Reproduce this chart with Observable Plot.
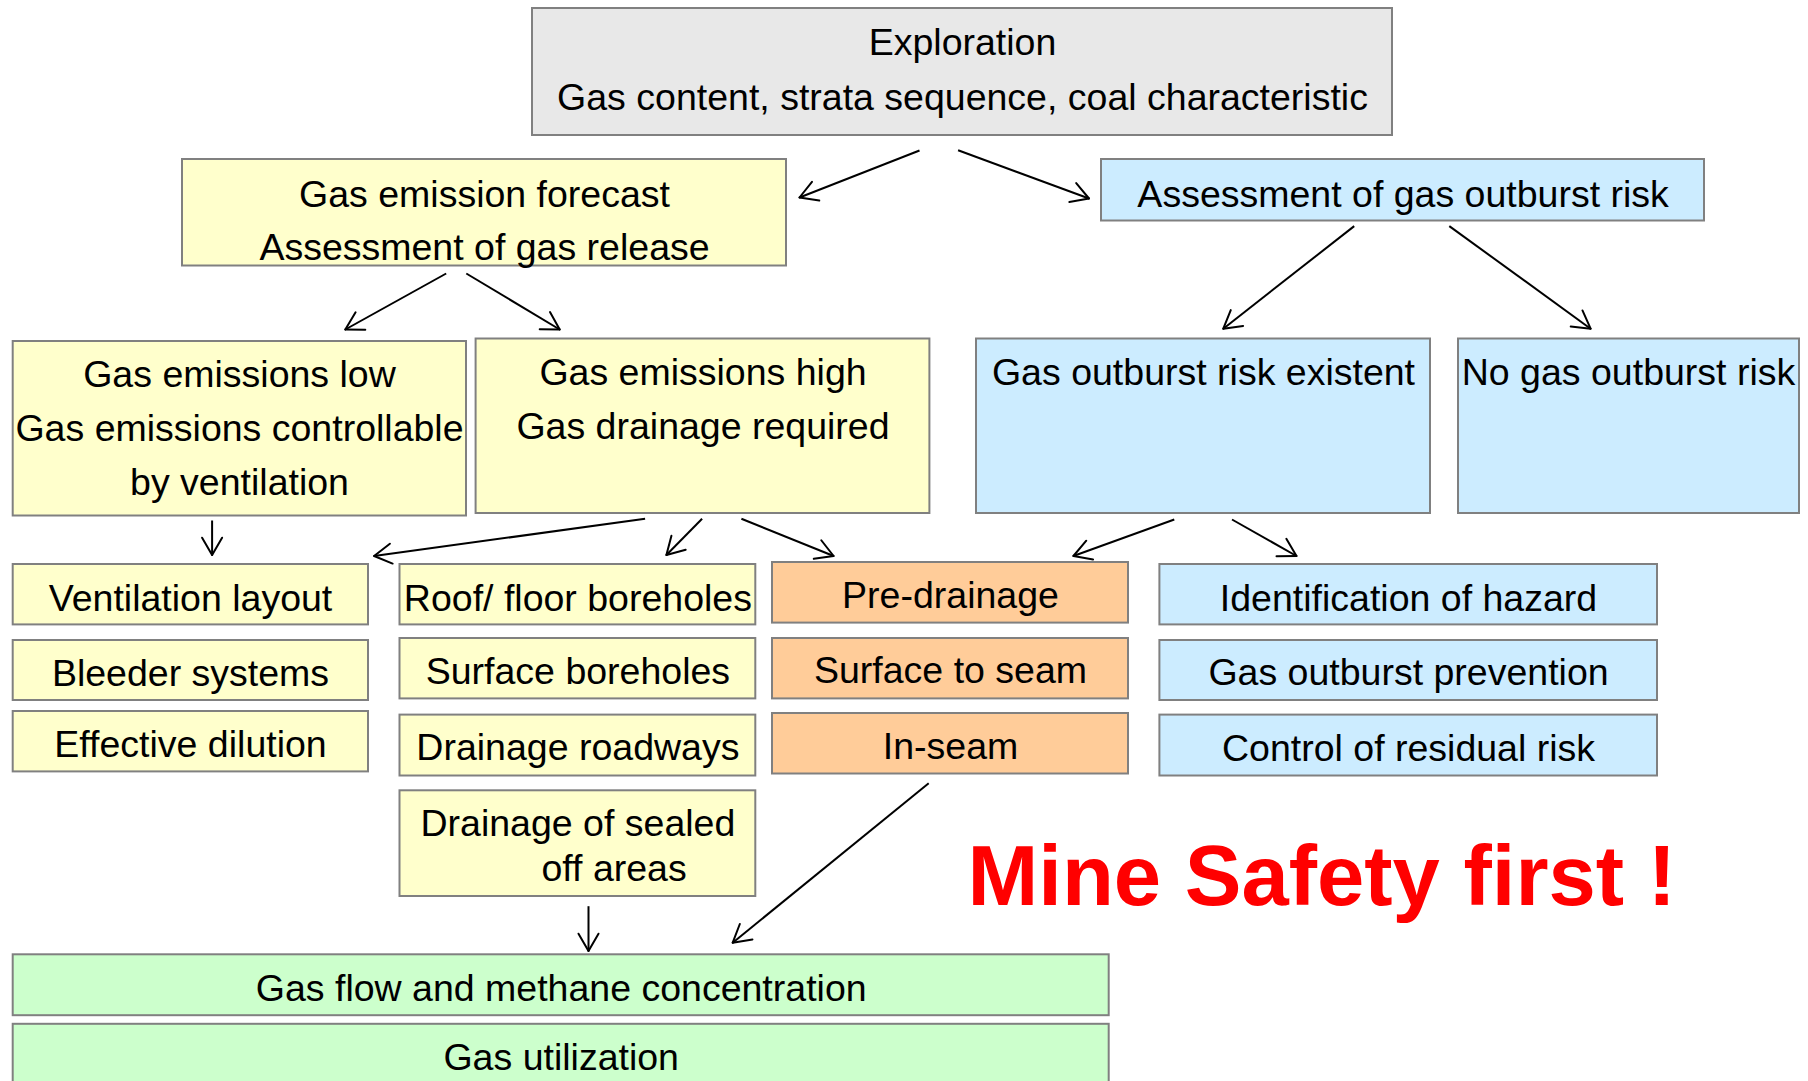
<!DOCTYPE html>
<html>
<head>
<meta charset="utf-8">
<script src="https://cdn.jsdelivr.net/npm/d3@7"></script>
<script src="https://cdn.jsdelivr.net/npm/@observablehq/plot@0.6"></script>
<style>
  html, body { margin: 0; padding: 0; background: #ffffff; overflow: hidden; }
  #chart svg { display: block; }
</style>
</head>
<body>
<div id="chart"></div>
<script>
// ---- Box categories and their fill colours ----
const kinds = ["exploration", "emission", "outburst", "drainage", "utilization"];
const kindColors = ["#E8E8E8", "#FFFFCC", "#CCECFF", "#FFCC99", "#CCFFCC"];

// ---- Flowchart boxes (layout in reference pixel units) ----
const boxes = [
  {id: "exploration",  kind: "exploration", x1: 532,   x2: 1392,   y1: 8,     y2: 135},
  {id: "forecast",     kind: "emission",    x1: 182,   x2: 786,    y1: 159,   y2: 265.5},
  {id: "assessOut",    kind: "outburst",    x1: 1101,  x2: 1704,   y1: 159,   y2: 220.5},
  {id: "low",          kind: "emission",    x1: 12.7,  x2: 466,    y1: 341,   y2: 515.5},
  {id: "high",         kind: "emission",    x1: 475.6, x2: 929.4,  y1: 338.5, y2: 513},
  {id: "existent",     kind: "outburst",    x1: 976,   x2: 1430,   y1: 338.5, y2: 513},
  {id: "noRisk",       kind: "outburst",    x1: 1458,  x2: 1799,   y1: 338.5, y2: 513},
  {id: "ventilation",  kind: "emission",    x1: 12.7,  x2: 368,    y1: 564,   y2: 624.4},
  {id: "bleeder",      kind: "emission",    x1: 12.7,  x2: 368,    y1: 640,   y2: 700},
  {id: "dilution",     kind: "emission",    x1: 12.7,  x2: 368,    y1: 711,   y2: 771.4},
  {id: "roof",         kind: "emission",    x1: 399.5, x2: 755.3,  y1: 564,   y2: 624.4},
  {id: "surfaceBH",    kind: "emission",    x1: 399.5, x2: 755.3,  y1: 638,   y2: 698.4},
  {id: "roadways",     kind: "emission",    x1: 399.5, x2: 755.3,  y1: 714.6, y2: 775.5},
  {id: "sealed",       kind: "emission",    x1: 399.5, x2: 755.3,  y1: 790.3, y2: 896},
  {id: "predrainage",  kind: "drainage",    x1: 772,   x2: 1128,   y1: 562,   y2: 622.6},
  {id: "surfaceSeam",  kind: "drainage",    x1: 772,   x2: 1128,   y1: 638,   y2: 698.4},
  {id: "inSeam",       kind: "drainage",    x1: 772,   x2: 1128,   y1: 713,   y2: 773.5},
  {id: "identify",     kind: "outburst",    x1: 1159.4, x2: 1657,  y1: 564,   y2: 624.4},
  {id: "prevention",   kind: "outburst",    x1: 1159.4, x2: 1657,  y1: 640,   y2: 700},
  {id: "residual",     kind: "outburst",    x1: 1159.4, x2: 1657,  y1: 714.6, y2: 775.5},
  {id: "gasFlow",      kind: "utilization", x1: 12.7,  x2: 1108.7, y1: 954.3, y2: 1015.2},
  {id: "utilization",  kind: "utilization", x1: 12.7,  x2: 1108.7, y1: 1023.8, y2: 1095}
];

// ---- Text lines (x = centre, y = baseline) ----
const labels = [
  {text: "Exploration", x: 962, y: 54.5},
  {text: "Gas content, strata sequence, coal characteristic", x: 962, y: 109.5},
  {text: "Gas emission forecast", x: 484, y: 206},
  {text: "Assessment of gas release", x: 484, y: 259},
  {text: "Assessment of gas outburst risk", x: 1402.6, y: 206},
  {text: "Gas emissions low", x: 239, y: 386.4},
  {text: "Gas emissions controllable", x: 239, y: 440},
  {text: "by ventilation", x: 239, y: 494},
  {text: "Gas emissions high", x: 702.5, y: 384},
  {text: "Gas drainage required", x: 702.5, y: 438},
  {text: "Gas outburst risk existent", x: 1203, y: 384},
  {text: "No gas outburst risk", x: 1628, y: 384},
  {text: "Ventilation layout", x: 190, y: 610},
  {text: "Bleeder systems", x: 190, y: 685.3},
  {text: "Effective dilution", x: 190, y: 756.3},
  {text: "Roof/ floor boreholes", x: 577.4, y: 610},
  {text: "Surface boreholes", x: 577.4, y: 683},
  {text: "Drainage roadways", x: 577.4, y: 759.4},
  {text: "Drainage of sealed", x: 577.4, y: 835.4},
  {text: "off areas", x: 613.6, y: 880.2},
  {text: "Pre-drainage", x: 950, y: 607.5},
  {text: "Surface to seam", x: 950, y: 682.5},
  {text: "In-seam", x: 950, y: 758.7},
  {text: "Identification of hazard", x: 1408, y: 610},
  {text: "Gas outburst prevention", x: 1408, y: 684.6},
  {text: "Control of residual risk", x: 1408, y: 760},
  {text: "Gas flow and methane concentration", x: 560.7, y: 1000.4},
  {text: "Gas utilization", x: 560.7, y: 1069.6}
];

// ---- Slogan ----
const slogan = [{text: "Mine Safety first !", x: 967, y: 904}];

// ---- Arrows (start -> tip) ----
const arrows = [
  {x1: 919,   y1: 150,   x2: 799,    y2: 197},
  {x1: 957.6, y1: 149.8, x2: 1088.5, y2: 198},
  {x1: 445.7, y1: 273,   x2: 344.8,  y2: 329},
  {x1: 465.8, y1: 273,   x2: 559.2,  y2: 329},
  {x1: 1353.7, y1: 225.6, x2: 1222.8, y2: 328.2},
  {x1: 1448.8, y1: 225.6, x2: 1590.1, y2: 328.2},
  {x1: 211.6, y1: 520,   x2: 211.6,  y2: 554.5},
  {x1: 644.6, y1: 518.3, x2: 373.6,  y2: 555.5},
  {x1: 701.6, y1: 518.3, x2: 665.9,  y2: 554.5},
  {x1: 740.9, y1: 518.3, x2: 833.1,  y2: 555.5},
  {x1: 1173.8, y1: 519,  x2: 1072.9, y2: 555.5},
  {x1: 1231.5, y1: 519,  x2: 1296,   y2: 555.5},
  {x1: 588,   y1: 905.7, x2: 588,    y2: 950.5},
  {x1: 928.2, y1: 782.8, x2: 732.2,  y2: 942.2}
];

// Open "V" arrowheads derived from each arrow's direction
const wingLength = 20;
const wingAngle = Math.PI / 6;
const wings = arrows.flatMap(a => {
  const t = Math.atan2(a.y2 - a.y1, a.x2 - a.x1);
  return [-1, 1].map(s => ({
    x1: a.x2, y1: a.y2,
    x2: a.x2 - wingLength * Math.cos(t + s * wingAngle),
    y2: a.y2 - wingLength * Math.sin(t + s * wingAngle)
  }));
});

const W = 1808, H = 1081;
const font = "'Liberation Sans', Arial, Helvetica, sans-serif";

const chart = Plot.plot({
  width: W,
  height: H,
  margin: 0,
  x: {domain: [0, W], range: [0, W], axis: null},
  y: {domain: [0, H], range: [0, H], axis: null},
  color: {type: "ordinal", domain: kinds, range: kindColors},
  style: {background: "#ffffff"},
  marks: [
    Plot.rect(boxes, {x1: "x1", x2: "x2", y1: "y1", y2: "y2", fill: "kind", stroke: "#808080", strokeWidth: 2}),
    Plot.link(arrows, {x1: "x1", y1: "y1", x2: "x2", y2: "y2", stroke: "#000000", strokeWidth: 2}),
    Plot.link(wings, {x1: "x1", y1: "y1", x2: "x2", y2: "y2", stroke: "#000000", strokeWidth: 2, strokeLinecap: "round"}),
    Plot.text(labels, {x: "x", y: "y", text: "text", textAnchor: "middle", lineAnchor: "bottom",
      fontSize: 37.5, fontFamily: font, fill: "#000000"}),
    Plot.text(slogan, {x: "x", y: "y", text: "text", textAnchor: "start", lineAnchor: "bottom",
      fontSize: 85, fontWeight: "bold", fontFamily: font, fill: "#FF0000"})
  ]
});

document.getElementById("chart").appendChild(chart);
</script>
</body>
</html>
